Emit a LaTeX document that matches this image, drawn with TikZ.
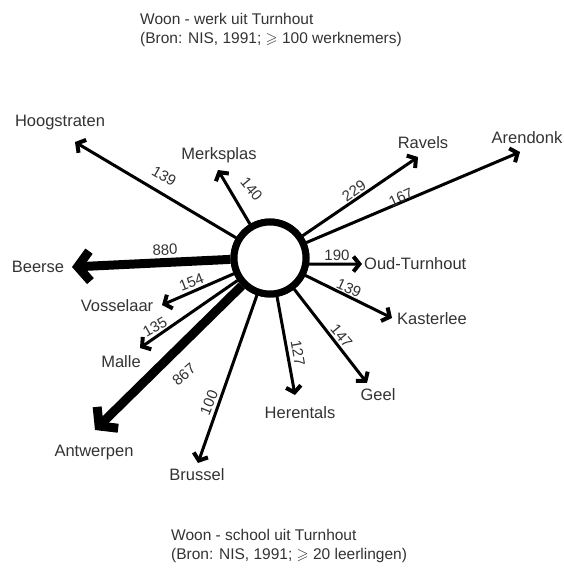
\documentclass[tikz,border=0pt]{standalone}
\usepackage{amssymb}
\usepackage{fontspec}
\setmainfont{Liberation Sans}
\usetikzlibrary{arrows.meta}
\definecolor{txt}{rgb}{0.2,0.2,0.2}
\tikzset{
  place/.style={text=txt, font=\fontsize{16.5}{19}\selectfont, inner sep=0pt},
  num/.style={text=txt, font=\fontsize{15}{18}\selectfont, inner sep=0pt},
  flow/.style={draw=black, line width=3pt, -{Straight Barb[length=6pt,width=15pt,line width=4pt]}},
  bigflow/.style={draw=black, line width=9pt, -{Straight Barb[length=12pt,width=30pt]}},
  ring/.style={circle, draw=black, fill=white, line width=7pt, minimum size=72pt, inner sep=0pt},
  title/.style={text=txt, font=\fontsize{15.5}{19}\selectfont, align=left, inner sep=0pt, anchor=north west}
}
\begin{document}
\begin{tikzpicture}[x=1pt,y=-1pt]
\useasboundingbox[fill=white] (0,0) rectangle (564,568);
% titles
\node[title] (t1) at (140,13) {Woon - werk uit Turnhout\\(Bron: NIS, 1991; $\geqslant$ 100 werknemers)};
\node[title] (t2) at (171,529) {Woon - school uit Turnhout\\(Bron: NIS, 1991; $\geqslant$ 20 leerlingen)};
% centre
\node[ring] (T) at (270,258) {};
% arrow tips
\coordinate (hoog) at (75,142);
\coordinate (merk) at (218,170);
\coordinate (rav) at (418,157);
\coordinate (aren) at (520,152);
\coordinate (beer) at (72,267);
\coordinate (oud) at (362,264);
\coordinate (voss) at (162,305);
\coordinate (kast) at (392,318);
\coordinate (mall) at (140,348);
\coordinate (antw) at (95,430);
\coordinate (brus) at (198,463);
\coordinate (here) at (295,395);
\coordinate (geel) at (367,383);
% arrows
\draw[flow] (T) -- (hoog);
\draw[flow] (T) -- (merk);
\draw[flow] (T) -- (rav);
\draw[flow] (T) -- (aren);
\draw[bigflow] (T.182) -- (beer);
\draw[flow] (T.-9) -- (oud);
\draw[flow] (T) -- (voss);
\draw[flow] (T) -- (kast);
\draw[flow] (T) -- (mall);
\draw[bigflow] (T) -- (antw);
\draw[flow] (T) -- (brus);
\draw[flow] (T) -- (here);
\draw[flow] (T) -- (geel);
% ring on top
\node[ring] (T2) at (T) {};
% place names
\node[place] (lhoog) at (60,123) {Hoogstraten};
\node[place] (lmerk) at (219,155) {Merksplas};
\node[place] (lrav) at (423,143) {Ravels};
\node[place] (laren) at (527,138) {Arendonk};
\node[place] (lbeer) at (38,267) {Beerse};
\node[place, anchor=west] (loud) at (364,264) {Oud-Turnhout};
\node[place] (lvoss) at (117,306) {Vosselaar};
\node[place] (lkast) at (432,319) {Kasterlee};
\node[place] (lmall) at (121,362) {Malle};
\node[place] (lantw) at (94,453) {Antwerpen};
\node[place] (lbrus) at (197,475) {Brussel};
\node[place] (lhere) at (300,413) {Herentals};
\node[place] (lgeel) at (378,395) {Geel};
% numbers
\node[num, rotate=-30] (n1) at (164,176) {139};
\node[num, rotate=-50] (n2) at (251.5,189) {140};
\node[num, rotate=35] (n3) at (354,191) {229};
\node[num, rotate=25] (n4) at (401,197.5) {167};
\node[num, rotate=3] (n5) at (165,250) {880};
\node[num] (n6) at (337,255) {190};
\node[num, rotate=21] (n7) at (191.5,282) {154};
\node[num, rotate=-24] (n8) at (349,288) {139};
\node[num, rotate=30] (n9) at (155,327) {135};
\node[num, rotate=41] (n10) at (184,374.5) {867};
\node[num, rotate=68] (n11) at (209,402.5) {100};
\node[num, rotate=-80] (n12) at (298,353) {127};
\node[num, rotate=-50] (n13) at (341.5,336) {147};
\end{tikzpicture}
\end{document}
